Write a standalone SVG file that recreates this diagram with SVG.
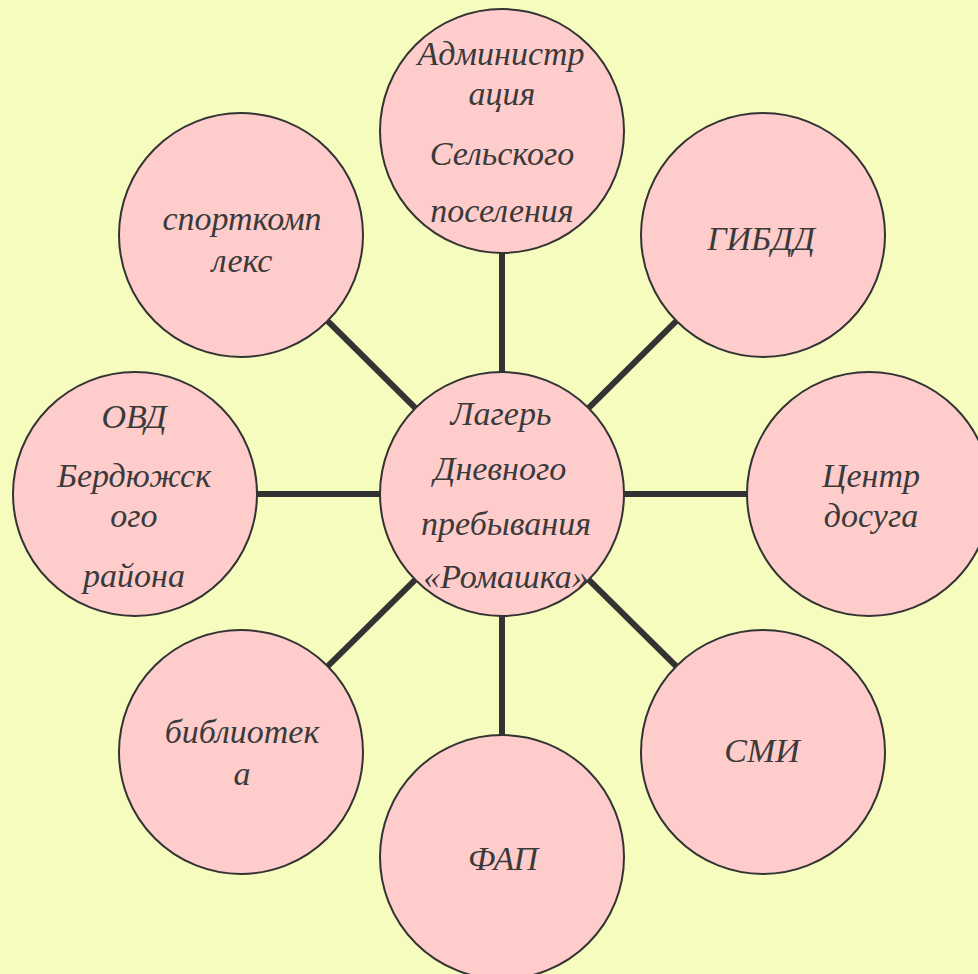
<svg xmlns="http://www.w3.org/2000/svg" width="978" height="974" viewBox="0 0 978 974">
<style>
.n{fill:#ffcccc;stroke:#333;stroke-width:2}
.t{font-family:"Liberation Serif","Times New Roman",serif;font-style:italic;font-size:34px;fill:#3a3a3a;text-anchor:middle}
.c line{stroke:#333;stroke-width:6}
</style>
<rect width="978" height="974" fill="#f6fcbe"/>
<g class="c" id="connectors">
<line x1="502" y1="494" x2="502" y2="131"/>
<line x1="502" y1="494" x2="763" y2="235"/>
<line x1="502" y1="494" x2="869" y2="494"/>
<line x1="502" y1="494" x2="763" y2="752"/>
<line x1="502" y1="494" x2="502" y2="857"/>
<line x1="502" y1="494" x2="241" y2="752"/>
<line x1="502" y1="494" x2="135" y2="494"/>
<line x1="502" y1="494" x2="241" y2="235"/>
</g>
<g id="center"><circle class="n" cx="502" cy="494" r="122"/>
<text class="t" x="501" y="425">Лагерь</text><text class="t" x="500" y="480">Дневного</text><text class="t" x="506" y="535">пребывания</text><text class="t" x="506" y="588">«Ромашка»</text></g>
<g id="admin"><circle class="n" cx="502" cy="131" r="122"/>
<text class="t" x="501" y="65">Администр</text><text class="t" x="502" y="105">ация</text><text class="t" x="502" y="165">Сельского</text><text class="t" x="502" y="222">поселения</text></g>
<g id="gibdd"><circle class="n" cx="763" cy="235" r="122"/>
<text class="t" x="761" y="250">ГИБДД</text></g>
<g id="centr"><circle class="n" cx="869" cy="494" r="122"/>
<text class="t" x="871" y="487">Центр</text><text class="t" x="871" y="527">досуга</text></g>
<g id="smi"><circle class="n" cx="763" cy="752" r="122"/>
<text class="t" x="762" y="762">СМИ</text></g>
<g id="fap"><circle class="n" cx="502" cy="857" r="122"/>
<text class="t" x="503" y="870">ФАП</text></g>
<g id="biblio"><circle class="n" cx="241" cy="752" r="122"/>
<text class="t" x="242" y="743">библиотек</text><text class="t" x="242" y="785">а</text></g>
<g id="ovd"><circle class="n" cx="135" cy="494" r="122"/>
<text class="t" x="134" y="428">ОВД</text><text class="t" x="134" y="487">Бердюжск</text><text class="t" x="134" y="527">ого</text><text class="t" x="134" y="587">района</text></g>
<g id="sport"><circle class="n" cx="241" cy="235" r="122"/>
<text class="t" x="242" y="230">спорткомп</text><text class="t" x="242" y="272">лекс</text></g>
</svg>
